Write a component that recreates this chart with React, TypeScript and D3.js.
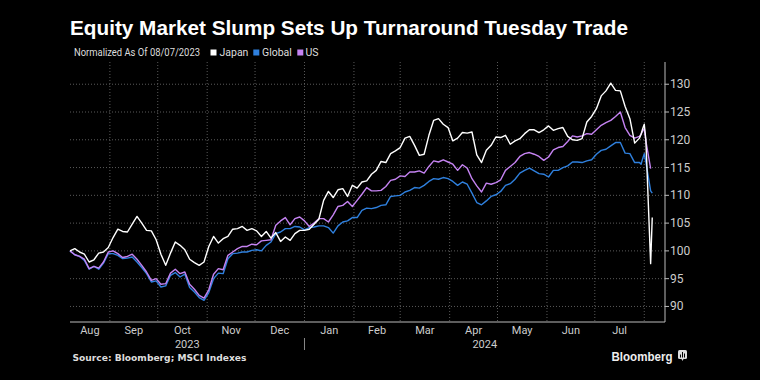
import React, { useEffect } from 'react';
import * as d3 from 'd3';

const dates = [
  "2023-08-07","2023-08-10","2023-08-13","2023-08-16","2023-08-19","2023-08-22","2023-08-25","2023-08-28","2023-08-31",
  "2023-09-03","2023-09-06","2023-09-09","2023-09-12","2023-09-15","2023-09-18","2023-09-21","2023-09-24","2023-09-27","2023-09-30",
  "2023-10-03","2023-10-06","2023-10-09","2023-10-12","2023-10-15","2023-10-18","2023-10-21","2023-10-24","2023-10-27","2023-10-30",
  "2023-11-02","2023-11-05","2023-11-08","2023-11-11","2023-11-14","2023-11-17","2023-11-20","2023-11-23","2023-11-26","2023-11-29",
  "2023-12-02","2023-12-05","2023-12-08","2023-12-11","2023-12-14","2023-12-17","2023-12-20","2023-12-23","2023-12-26","2023-12-29",
  "2024-01-01","2024-01-04","2024-01-07","2024-01-10","2024-01-13","2024-01-16","2024-01-19","2024-01-22","2024-01-25","2024-01-28","2024-01-31",
  "2024-02-03","2024-02-06","2024-02-09","2024-02-12","2024-02-15","2024-02-18","2024-02-21","2024-02-24","2024-02-27",
  "2024-03-01","2024-03-04","2024-03-07","2024-03-10","2024-03-13","2024-03-16","2024-03-19","2024-03-22","2024-03-25","2024-03-28","2024-03-31",
  "2024-04-03","2024-04-06","2024-04-09","2024-04-12","2024-04-15","2024-04-18","2024-04-21","2024-04-24","2024-04-27","2024-04-30",
  "2024-05-03","2024-05-06","2024-05-09","2024-05-12","2024-05-15","2024-05-18","2024-05-21","2024-05-24","2024-05-27","2024-05-30",
  "2024-06-02","2024-06-05","2024-06-08","2024-06-11","2024-06-14","2024-06-17","2024-06-20","2024-06-23","2024-06-26","2024-06-29",
  "2024-07-02","2024-07-05","2024-07-08","2024-07-11","2024-07-14","2024-07-17","2024-07-20","2024-07-23","2024-07-26",
  "2024-07-29","2024-07-30","2024-07-31","2024-08-01","2024-08-02","2024-08-05","2024-08-06"
];

const japan = [
  100.0, 100.4, 99.8, 99.4, 98.0, 98.4, 99.6, 99.8, 100.6,
  102.4, 103.9, 103.5, 103.4, 104.8, 106.2, 105.0, 103.7, 103.6, 102.0,
  99.4, 97.4, 99.6, 101.6, 101.0, 100.2, 98.5, 97.9, 97.4, 98.0,
  100.8, 102.6, 101.4, 102.2, 102.6, 103.9, 104.0, 104.4, 103.7, 104.0,
  103.6, 102.6, 103.5, 102.3, 103.3, 101.7, 102.5, 101.9, 103.1, 103.7,
  103.7, 103.9, 104.8, 105.7, 109.1, 110.7, 109.6, 111.0, 111.2, 109.8, 111.8,
  111.3, 112.4, 112.6, 113.8, 114.5, 116.1, 115.9, 117.5, 118.0,
  118.6, 120.3, 120.6, 119.0, 117.2, 117.4, 120.8, 123.5, 123.8, 122.8, 122.2,
  119.8, 120.3, 121.3, 121.2, 121.4, 117.3, 115.9, 118.1, 119.0, 120.5,
  120.4, 120.8, 119.2, 119.8, 120.2, 121.1, 121.8, 121.8, 121.3, 121.8,
  122.5, 121.7, 122.0, 122.2, 120.6, 120.0, 119.9, 120.2, 123.2, 124.2,
  125.6, 127.9, 128.8, 130.2, 128.9, 128.8, 126.0, 123.8, 119.4,
  120.3, 121.0, 122.0, 122.8, 120.0, 97.7, 106.0
];

const global = [
  100.0, 99.3, 99.0, 98.3, 96.7, 97.2, 96.7, 97.8, 99.5,
  99.5, 99.2, 98.6, 98.7, 98.9, 98.0, 97.0, 95.9, 94.4, 94.6,
  93.5, 93.7, 95.6, 96.1, 95.3, 95.8, 93.4, 92.6, 91.6, 91.1,
  92.5, 95.0, 96.0, 95.9, 98.6, 99.5, 99.6, 99.8, 99.8, 100.1,
  100.2, 100.0, 101.0, 101.6, 103.1, 103.4, 104.0, 104.0, 104.4, 104.3,
  103.8, 104.2, 104.3, 104.5, 104.5, 104.2, 103.2, 104.5, 105.2, 105.4, 106.0,
  106.0, 107.3, 107.7, 107.6, 107.8, 108.2, 108.3, 109.8, 109.9,
  110.0, 110.6, 110.9, 111.4, 111.3, 111.8, 112.5, 113.0, 112.9, 113.2, 113.0,
  112.5, 111.8, 112.4, 112.0, 110.4, 108.7, 108.3, 109.0, 109.8, 110.1,
  110.7, 111.8, 112.1, 112.9, 114.0, 114.5, 114.9, 114.4, 113.9, 113.8,
  113.3, 114.5, 114.5, 115.0, 115.3, 116.0, 116.0, 115.9, 116.2, 116.4,
  117.4, 118.1, 118.3, 118.9, 119.5, 119.5, 117.6, 117.5, 115.9,
  115.9, 115.6, 116.6, 117.5, 116.0, 110.8, 110.4
];

const us = [
  100.0, 99.3, 99.0, 98.5, 96.8, 97.2, 96.9, 98.0, 99.8,
  100.0, 99.5, 98.8, 99.0, 99.4, 98.5, 97.4, 96.2, 94.7, 95.0,
  94.0, 94.1, 96.0, 96.7, 95.9, 96.2, 94.0, 93.1, 92.0, 91.5,
  93.0, 95.8, 96.8, 96.6, 99.2, 99.8, 100.4, 100.8, 100.8, 101.2,
  101.1, 101.8, 101.9, 102.0, 104.6, 105.4, 106.0, 104.7, 105.8, 106.1,
  105.4, 104.4, 105.0, 105.8, 105.8, 105.2, 106.5, 108.0, 108.2, 108.9, 108.0,
  109.1, 110.2, 111.4, 110.8, 110.8, 110.9, 111.6, 112.7, 112.9,
  113.5, 113.4, 114.2, 114.2, 114.4, 114.0, 115.2, 116.2, 116.0, 116.4, 116.0,
  115.6, 114.5, 115.5, 114.9, 113.0, 111.7, 110.6, 112.2, 112.0, 112.3,
  112.8, 114.5, 115.2, 115.9, 117.0, 117.5, 117.7, 117.4, 117.0, 116.3,
  116.9, 118.2, 118.6, 118.8, 119.7, 120.7, 120.5, 120.7, 121.1, 121.0,
  121.8, 122.6, 123.1, 123.5, 124.2, 125.0, 122.2, 120.8, 120.3,
  120.6, 121.0, 121.6, 122.0, 119.8, 114.8, null
];

const monthBoundaries = [
  "2023-09-01","2023-10-01","2023-11-01","2023-12-01","2024-01-01","2024-02-01",
  "2024-03-01","2024-04-01","2024-05-01","2024-06-01","2024-07-01","2024-08-01"
];
const monthLabels = ["Aug","Sep","Oct","Nov","Dec","Jan","Feb","Mar","Apr","May","Jun","Jul"];
const yearLabels = ["2023", "2024"];
const yearBoundary = "2024-01-01";
const yTicks = [90, 95, 100, 105, 110, 115, 120, 125, 130];

const seriesNames = ["Japan", "Global", "US"];
const seriesColors = ["#ffffff", "#2f80de", "#c583f2"];

const W = 760, H = 380;
const M = { left: 70, right: 665, top: 62, bottom: 322 };

export default function App() {
  useEffect(() => {
    document.body.style.margin = '0';
    document.body.style.background = '#000';
  }, []);

  const parse = d3.timeParse('%Y-%m-%d');
  const dateObjs = dates.map(d => parse(d) as Date);
  const x = d3.scaleTime()
    .domain([parse('2023-08-07') as Date, parse('2024-08-14') as Date])
    .range([M.left, M.right]);
  const y = d3.scaleLinear().domain([87.2, 134]).range([M.bottom, M.top]);

  const mk = (vals: (number | null)[]) =>
    d3.line<number | null>()
      .defined(v => v != null)
      .x((_, i) => x(dateObjs[i]))
      .y(v => y(v as number))(vals) || '';

  const bounds = monthBoundaries.map(d => x(parse(d) as Date));
  const monthCenters = monthLabels.map((_, i) => {
    const a = i === 0 ? M.left : bounds[i - 1];
    const b = bounds[i];
    return (a + b) / 2;
  });
  const yb = x(parse(yearBoundary) as Date);
  const yearCenters = [(M.left + yb) / 2, (yb + M.right) / 2];

  const font = 'Roboto, "Liberation Sans", Arial, sans-serif';
  const gridColor = '#5a5a5a';

  const legendItems = [
    { x: 210.5, tx: 219.5 },
    { x: 253.3, tx: 262 },
    { x: 297.3, tx: 305.5 },
  ];

  return (
    <svg width={W} height={H} style={{ position: 'absolute', left: 0, top: 0, background: '#000' }}>
      <rect x={0} y={0} width={W} height={H} fill="#000" />
      <text x={70} y={35} fill="#fff" fontFamily='"Liberation Sans", Arial, sans-serif' fontWeight="bold"
        fontSize={19.5} textLength={558} lengthAdjust="spacingAndGlyphs">
        Equity Market Slump Sets Up Turnaround Tuesday Trade
      </text>

      <text x={74} y={56} fill="#ddd" fontFamily={font} fontSize={10.5} textLength={126} lengthAdjust="spacingAndGlyphs">
        Normalized As Of 08/07/2023
      </text>
      {seriesNames.map((n, i) => (
        <g key={n}>
          <rect x={legendItems[i].x} y={49.5} width={6} height={6} fill={seriesColors[i]} />
          <text x={legendItems[i].tx} y={56} fill="#ddd" fontFamily={font} fontSize={10.5}>{n}</text>
        </g>
      ))}

      {yTicks.map(t => (
        <line key={'h' + t} x1={M.left} x2={M.right} y1={y(t)} y2={y(t)}
          stroke={gridColor} strokeWidth={1} strokeDasharray="1,2" />
      ))}
      {bounds.map((b, i) => (
        <line key={'v' + i} x1={b} x2={b} y1={M.top} y2={M.bottom}
          stroke={gridColor} strokeWidth={1} strokeDasharray="1,2" />
      ))}

      <path d={mk(global)} fill="none" stroke={seriesColors[1]} strokeWidth={1.4} strokeLinejoin="round" />
      <path d={mk(us)} fill="none" stroke={seriesColors[2]} strokeWidth={1.4} strokeLinejoin="round" />
      <path d={mk(japan)} fill="none" stroke={seriesColors[0]} strokeWidth={1.4} strokeLinejoin="round" />

      <line x1={M.left} x2={M.right} y1={M.bottom} y2={M.bottom} stroke="#bbb" strokeWidth={1} />
      <line x1={M.right} x2={M.right} y1={M.top} y2={M.bottom} stroke="#bbb" strokeWidth={1} />
      {yTicks.map(t => (
        <g key={'yt' + t}>
          <line x1={M.right} x2={M.right + 4} y1={y(t)} y2={y(t)} stroke="#bbb" />
          <text x={M.right + 5} y={y(t) + 4} fill="#ccc" fontFamily={font} fontSize={12}>{t}</text>
        </g>
      ))}

      {monthLabels.map((m, i) => (
        <text key={m + i} x={monthCenters[i]} y={333.5} textAnchor="middle" fill="#ccc" fontFamily={font} fontSize={11}>{m}</text>
      ))}
      <line x1={yb} x2={yb} y1={338} y2={350} stroke="#888" strokeWidth={1} />
      {yearLabels.map((yl, i) => (
        <text key={yl} x={yearCenters[i]} y={348} textAnchor="middle" fill="#ccc" fontFamily={font} fontSize={11}>{yl}</text>
      ))}

      <text x={72.5} y={360.5} fill="#ddd" fontFamily='"DejaVu Sans", sans-serif' fontWeight="bold" fontSize={9.5}
        textLength={174} lengthAdjust="spacingAndGlyphs">
        Source: Bloomberg; MSCI Indexes
      </text>

      <text x={611.5} y={360.5} fill="#eee" fontFamily='"Liberation Sans", Arial, sans-serif' fontWeight="bold" fontSize={13}
        textLength={61} lengthAdjust="spacingAndGlyphs">
        Bloomberg
      </text>
      <g transform="translate(678,350)">
        <rect x={0} y={0} width={9} height={9} rx={1.5} fill="#ddd" />
        <path d="M3.5,9 L4.5,11 L5.5,9 Z" fill="#ddd" />
        <rect x={2} y={4.5} width={1} height={3} fill="#000" />
        <rect x={4} y={2} width={1} height={5.5} fill="#000" />
        <rect x={6} y={3.5} width={1} height={4} fill="#000" />
      </g>
    </svg>
  );
}
